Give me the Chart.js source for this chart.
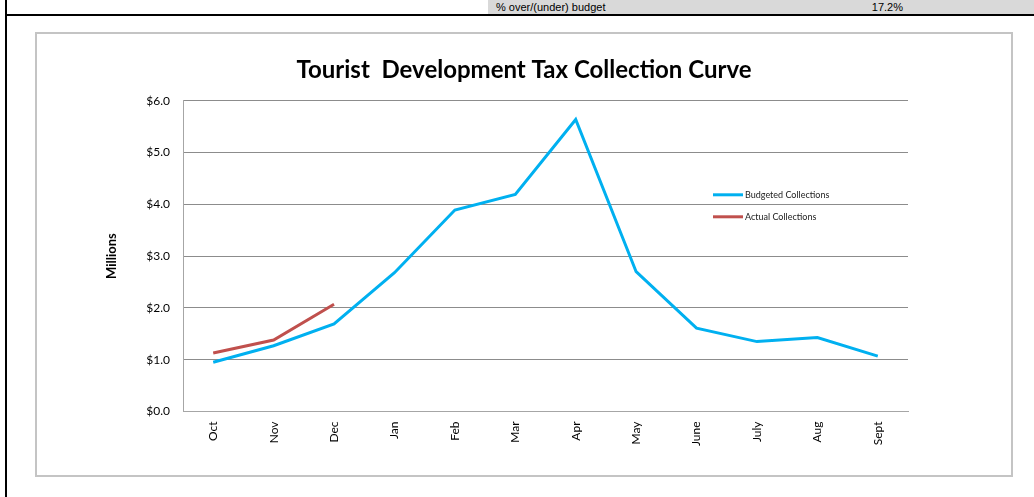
<!DOCTYPE html>
<html>
<head>
<meta charset="utf-8">
<script src="https://cdn.jsdelivr.net/npm/chart.js@4"></script>
<style>
  html, body { margin: 0; padding: 0; background: #fff; }
  body { width: 1034px; height: 497px; position: relative; overflow: hidden; }
  #topbar { position: absolute; left: 488px; top: 0; width: 546px; height: 14px; background: #d9d9d9;
            font-family: "Liberation Sans", Arial, sans-serif; font-size: 11px; color: #000; }
  #topbar .lbl { position: absolute; left: 8px; top: 0px; line-height: 14px; }
  #topbar .val { position: absolute; right: 131px; top: 0px; line-height: 14px; }
  #hline { position: absolute; left: 5px; top: 14px; width: 1029px; height: 2px; background: #000; }
  #vline { position: absolute; left: 5px; top: 0; width: 2px; height: 497px; background: #000; }
  #box { position: absolute; left: 35px; top: 32px; width: 978px; height: 445px; box-sizing: border-box;
         border: 2px solid #c4c4c4; }
  #wrap { position: absolute; left: 0; top: 0; width: 974px; height: 441px; }
</style>
</head>
<body>
<div id="topbar"><span class="lbl">% over/(under) budget</span><span class="val">17.2%</span></div>
<div id="hline"></div>
<div id="vline"></div>
<div id="box"><div id="wrap"><canvas id="c"></canvas></div></div>
<script>
const months = ['Oct','Nov','Dec','Jan','Feb','Mar','Apr','May','June','July','Aug','Sept'];
const budgetedCollections = [0.95, 1.27, 1.69, 2.68, 3.89, 4.19, 5.64, 2.70, 1.61, 1.35, 1.43, 1.07];
const actualCollections = [1.13, 1.38, 2.07, null, null, null, null, null, null, null, null, null];
const yTickValues = [0, 1, 2, 3, 4, 5, 6];

const FONT = 'Lato, "Open Sans", sans-serif';

const legendPlugin = {
  id: 'insideLegend',
  afterDraw(chart) {
    const ctx = chart.ctx;
    const a = chart.chartArea;
    const x0 = a.right - 195, x1 = a.right - 165;
    const ys = [a.top + 94, a.top + 116];
    ctx.save();
    ctx.font = '9px ' + FONT;
    ctx.textBaseline = 'middle';
    ctx.textAlign = 'left';
    chart.data.datasets.forEach((ds, i) => {
      ctx.strokeStyle = ds.borderColor;
      ctx.lineWidth = 3;
      ctx.beginPath();
      ctx.moveTo(x0, ys[i]);
      ctx.lineTo(x1, ys[i]);
      ctx.stroke();
      ctx.fillStyle = '#222';
      ctx.fillText(ds.label, x1 + 2, ys[i]);
    });
    ctx.restore();
  }
};

new Chart(document.getElementById('c'), {
  type: 'line',
  data: {
    labels: months,
    datasets: [
      { label: 'Budgeted Collections', data: budgetedCollections, borderColor: '#00b0f0',
        backgroundColor: '#00b0f0', borderWidth: 3, pointRadius: 0, tension: 0 },
      { label: 'Actual Collections', data: actualCollections, borderColor: '#c0504d',
        backgroundColor: '#c0504d', borderWidth: 3, pointRadius: 0, tension: 0, spanGaps: false }
    ]
  },
  options: {
    responsive: true,
    maintainAspectRatio: false,
    animation: false,
    layout: { padding: 0 },
    plugins: {
      legend: { display: false },
      tooltip: { enabled: false },
      title: {
        display: true,
        text: 'Tourist  Development Tax Collection Curve',
        color: '#000',
        font: { family: FONT, size: 24, weight: 'bold' },
        padding: { top: 22, bottom: 16 }
      }
    },
    scales: {
      x: {
        type: 'category',
        offset: true,
        grid: { display: false, drawTicks: false },
        border: { display: true, color: '#a6a6a6', width: 1 },
        ticks: { color: '#000', font: { family: FONT, size: 12 }, minRotation: 90, maxRotation: 90, padding: 10, autoSkip: false },
        afterFit(s) { s.height = 63.5; }
      },
      y: {
        min: 0, max: 6,
        afterBuildTicks(s) { s.ticks = yTickValues.map(v => ({ value: v })); },
        grid: { color: '#8c8c8c', lineWidth: 1, drawTicks: false },
        border: { display: true, color: '#a6a6a6', width: 1 },
        ticks: { color: '#000', font: { family: FONT, size: 12 }, padding: 13,
                 callback: v => '$' + Number(v).toFixed(1) },
        title: { display: true, text: 'Millions', color: '#000',
                 font: { family: FONT, size: 13, weight: 'bold' }, padding: { top: 67, bottom: 0 } },
        afterFit(s) { s.width = 146; }
      },
      y2: {
        position: 'right',
        display: true,
        grid: { display: false, drawOnChartArea: false, drawTicks: false },
        border: { display: false },
        ticks: { display: false },
        afterFit(s) { s.width = 103; }
      }
    }
  },
  plugins: [legendPlugin]
});
</script>
</body>
</html>
